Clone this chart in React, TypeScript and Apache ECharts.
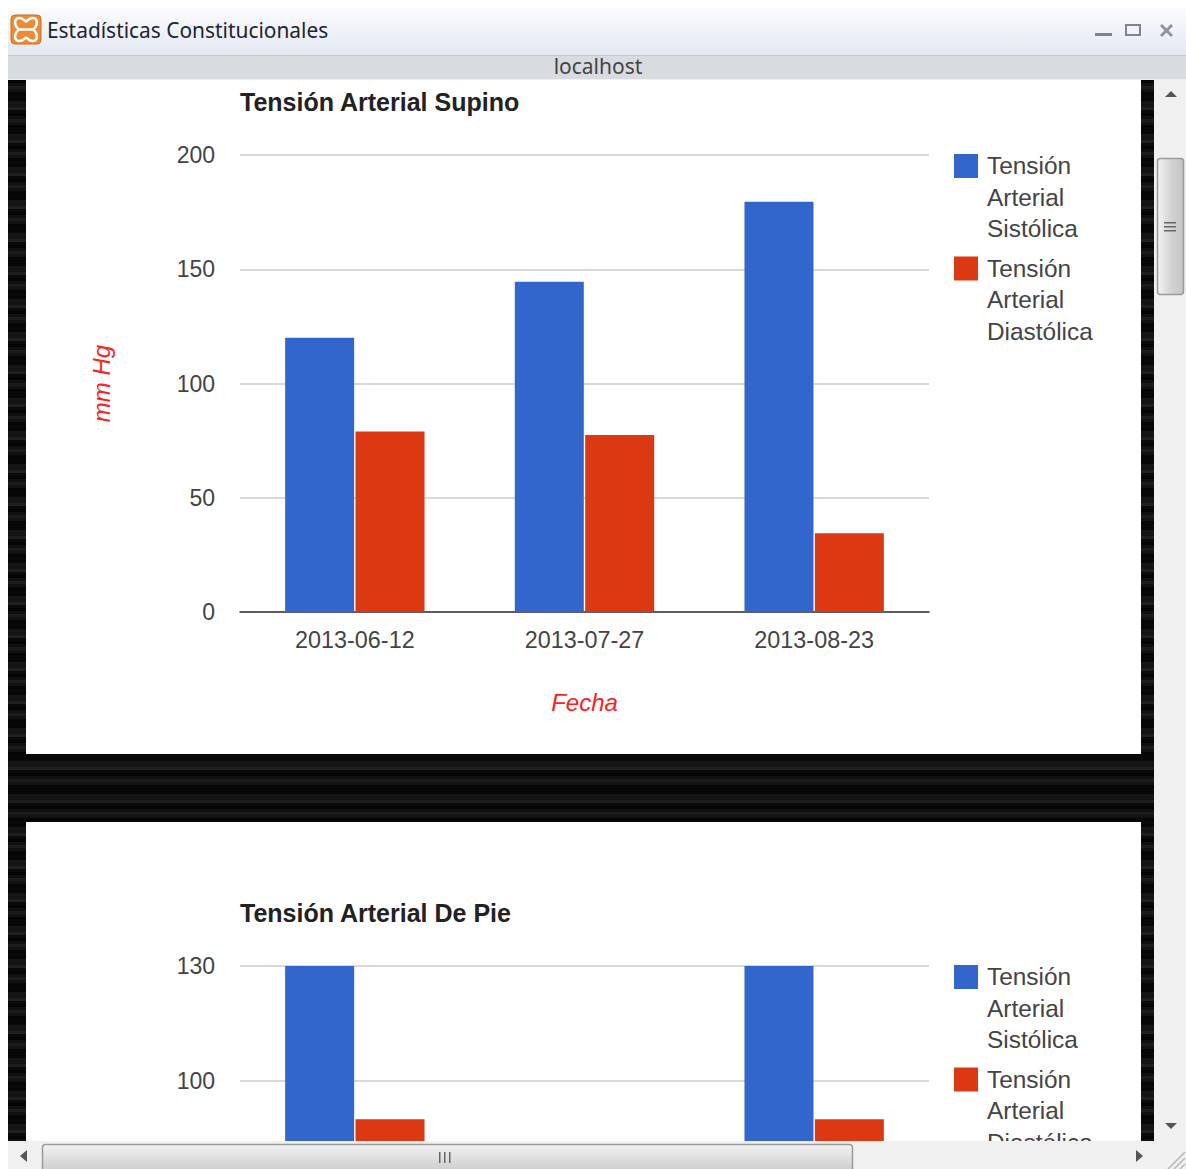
import React, { useEffect, useRef } from "react";
import * as echarts from "echarts";

const dates = ["2013-06-12", "2013-07-27", "2013-08-23"];
const supinoSistolica = [120, 144.5, 179.5];
const supinoDiastolica = [79, 77.5, 34.5];
// The middle date of the standing chart stays below the window's scrolled edge.
const dePieSistolica = [130, null, 130];
const dePieDiastolica = [90, null, 90];
const legendNames = ["Tensión\nArterial\nSistólica", "Tensión\nArterial\nDiastólica"];
const seriesNames = ["Tensión Arterial Sistólica", "Tensión Arterial Diastólica"];
const supinoTicks = { min: 0, max: 200, interval: 50 };
const dePieTicks = { min: 10, max: 130, interval: 30 };

const BLUE = "#3366cc";
const RED = "#dc3912";
const AXIS_RED = "#ff2020";
const FONT = "'Liberation Sans', Arial, sans-serif";
const UI_FONT = "'Noto Sans', 'Open Sans', sans-serif";

echarts.graphic.registerShape(
  "xamppBone",
  echarts.graphic.extendPath(
    "M6 3C11 1 13 5 15 6C17 5 19 1 24 3C28 6 25 12 22 14C25 16 28 22 24 25C19 27 17 23 15 22C13 23 11 27 6 25C2 22 5 16 8 14C5 12 2 6 6 3Z M8 14L22 14",
    {},
  ) as any,
);

// Brushed-metal page background, one thin line per row with varying brightness.
const stripeShades = ["#050505", "#131313", "#080808", "#1c1c1c", "#0a0a0a", "#161616", "#060606", "#101010", "#1f1f1f", "#070707", "#121212"];

function stripes() {
  const lines: any[] = [];
  for (let y = 80, i = 0; y < 1141; y += 3, i++) {
    lines.push({
      type: "rect",
      z: 0,
      silent: true,
      shape: { x: 8, y, width: 1146, height: 3 },
      style: { fill: stripeShades[(i * 7) % stripeShades.length] },
    });
  }
  return lines;
}

function legend(top: number) {
  const items: any[] = [];
  [BLUE, RED].forEach((color, i) => {
    const y = top + i * 102.5;
    items.push({
      type: "rect",
      z: 3,
      shape: { x: 954, y, width: 24, height: 24 },
      style: { fill: color },
    });
    items.push({
      type: "text",
      z: 3,
      x: 987,
      y: y - 4,
      style: {
        text: legendNames[i],
        font: `24.4px ${FONT}`,
        fill: "#444444",
        lineHeight: 31.5,
      },
    });
  });
  return items;
}

function windowFrame() {
  const z = 50;
  const rect = (x: number, y: number, width: number, height: number, fill: any, stroke?: string, r = 0) => ({
    type: "rect",
    z,
    silent: true,
    shape: { x, y, width, height, r },
    style: { fill, stroke, lineWidth: stroke ? 1.5 : 0 },
  });
  const tri = (points: number[][], fill = "#555555") => ({
    type: "polygon",
    z: z + 1,
    silent: true,
    shape: { points },
    style: { fill },
  });
  const vGrad = (a: string, b: string) =>
    new echarts.graphic.LinearGradient(0, 0, 0, 1, [
      { offset: 0, color: a },
      { offset: 1, color: b },
    ]);
  const hGrad = (a: string, m: string, b: string) =>
    new echarts.graphic.LinearGradient(0, 0, 1, 0, [
      { offset: 0, color: a },
      { offset: 0.5, color: m },
      { offset: 1, color: b },
    ]);
  return [
    rect(0, 0, 8, 1169, "#ffffff"),
    rect(0, 0, 1186, 10, "#ffffff"),
    rect(8, 8, 1178, 48, vGrad("#fbfcfe", "#e3e7f1")),
    rect(8, 55, 1178, 25, "#d8dbe0"),
    { type: "rect", z: z + 1, shape: { x: 8, y: 55, width: 1178, height: 1 }, style: { fill: "#c5c9d2" } },
    { type: "rect", z: z + 1, shape: { x: 8, y: 79, width: 1178, height: 1 }, style: { fill: "#eef0f3" } },
    { type: "rect", z: z + 1, shape: { x: 11, y: 15, width: 30, height: 29, r: 4 }, style: { fill: "#ef8a34", stroke: "#c9701f", lineWidth: 1 } },
    {
      type: "xamppBone",
      z: z + 2,
      x: 11,
      y: 15.5,
      style: { fill: "none", stroke: "#ffffff", lineWidth: 2.5 },
    },
    {
      type: "text",
      z: z + 1,
      x: 47,
      y: 30,
      style: { text: "Estadísticas Constitucionales", font: `20.9px ${UI_FONT}`, fill: "#1d2433", verticalAlign: "middle" },
    },
    {
      type: "text",
      z: z + 1,
      x: 598,
      y: 66,
      style: { text: "localhost", font: `21px ${UI_FONT}`, fill: "#444444", align: "center", verticalAlign: "middle" },
    },
    // Window buttons
    { type: "rect", z: z + 1, shape: { x: 1095, y: 33, width: 17, height: 3 }, style: { fill: "#7d8490" } },
    { type: "rect", z: z + 1, shape: { x: 1126, y: 25, width: 14, height: 10 }, style: { fill: "none", stroke: "#7d8490", lineWidth: 2 } },
    { type: "line", z: z + 1, shape: { x1: 1161, y1: 25, x2: 1172, y2: 36 }, style: { stroke: "#8e949e", lineWidth: 3 } },
    { type: "line", z: z + 1, shape: { x1: 1172, y1: 25, x2: 1161, y2: 36 }, style: { stroke: "#8e949e", lineWidth: 3 } },
    // Vertical scrollbar
    rect(1154, 80, 32, 1061, "#f0f0f0"),
    rect(1157.5, 158.5, 26, 136, hGrad("#f4f4f4", "#d4d4d4", "#c4c4c4"), "#9a9a9a", 3),
    tri([[1165, 97], [1177, 97], [1171, 91]]),
    tri([[1165, 1123], [1177, 1123], [1171, 1129]]),
    ...[222, 226, 230].map((y) => ({ type: "rect", z: z + 1, shape: { x: 1164, y, width: 12, height: 1.5 }, style: { fill: "#666666" } })),
    // Horizontal scrollbar
    rect(8, 1141, 1178, 28, "#f0f0f0"),
    rect(42.5, 1144.5, 810, 30, vGrad("#f2f2f2", "#c8c8c8"), "#9a9a9a", 3),
    tri([[27, 1150], [27, 1162], [20, 1156]]),
    tri([[1136, 1150], [1136, 1162], [1143, 1156]]),
    ...[439, 444, 449].map((x) => ({ type: "rect", z: z + 1, shape: { x, y: 1152, width: 1.5, height: 11 }, style: { fill: "#666666" } })),
    // Resize grip
    ...[0, 1, 2].map((i) => ({
      type: "line",
      z: z + 1,
      shape: { x1: 1185, y1: 1152 + i * 6, x2: 1168 + i * 6, y2: 1169 },
      style: { stroke: "#b5b5b5", lineWidth: 1.5 },
    })),
  ];
}

function bars(name: string, values: (number | null)[], color: string, axis: number) {
  return {
    type: "bar",
    name,
    data: values,
    xAxisIndex: axis,
    yAxisIndex: axis,
    barWidth: 69,
    barGap: "2%",
    itemStyle: { color },
    silent: true,
    z: 3,
  };
}

export default function App() {
  const ref = useRef<HTMLDivElement>(null);

  useEffect(() => {
    const chart = echarts.init(ref.current!, undefined, { renderer: "svg" });
    const xCommon = {
      type: "category",
      z: 2,
      data: dates,
      axisTick: { show: false },
      axisLine: { lineStyle: { color: "#333333", width: 1.5 } },
      axisLabel: { color: "#444444", fontSize: 23.4, fontFamily: FONT, margin: 16 },
      nameTextStyle: { color: AXIS_RED, fontSize: 24, fontStyle: "italic", fontFamily: FONT },
    };
    const yCommon = {
      type: "value",
      z: 2,
      axisLine: { show: false },
      axisTick: { show: false },
      splitLine: { lineStyle: { color: "#cccccc", width: 1.5 } },
      axisLabel: { color: "#444444", fontSize: 23, fontFamily: FONT, margin: 25, padding: [0, 0, 2, 0] },
      nameTextStyle: { color: AXIS_RED, fontSize: 24, fontStyle: "italic", fontFamily: FONT },
    };
    const titleStyle = { fontFamily: FONT, fontSize: 25, fontWeight: "bold", color: "#222222" };
    chart.setOption({
      animation: false,
      backgroundColor: "transparent",
      title: [
        { text: "Tensión Arterial Supino", left: 240, top: 89, padding: 0, textStyle: titleStyle, z: 3 },
        { text: "Tensión Arterial De Pie", left: 240, top: 900, padding: 0, textStyle: titleStyle, z: 3 },
      ],
      grid: [
        { left: 240, top: 155, width: 689, height: 457, outerBoundsMode: "none" },
        { left: 240, top: 966, width: 689, height: 460, outerBoundsMode: "none" },
      ],
      xAxis: [
        { ...xCommon, gridIndex: 0, name: "Fecha", nameLocation: "middle", nameGap: 78 },
        // The lower chart's axis sits past the window's visible area, so its labels are left out.
        { ...xCommon, gridIndex: 1, axisLabel: { show: false } },
      ],
      yAxis: [
        { ...yCommon, gridIndex: 0, ...supinoTicks, name: "mm Hg", nameLocation: "middle", nameGap: 127, nameRotate: 90 },
        {
          ...yCommon,
          gridIndex: 1,
          ...dePieTicks,
          axisLabel: { ...yCommon.axisLabel, formatter: (v: number) => (v >= 100 ? String(v) : "") },
        },
      ],
      series: [
        bars(seriesNames[0], supinoSistolica, BLUE, 0),
        bars(seriesNames[1], supinoDiastolica, RED, 0),
        bars(seriesNames[0], dePieSistolica, BLUE, 1),
        bars(seriesNames[1], dePieDiastolica, RED, 1),
      ],
      graphic: [
        ...stripes(),
        { type: "rect", z: 1, silent: true, shape: { x: 26, y: 80, width: 1115, height: 674 }, style: { fill: "#ffffff" } },
        { type: "rect", z: 1, silent: true, shape: { x: 26, y: 822, width: 1115, height: 330 }, style: { fill: "#ffffff" } },
        ...legend(154),
        ...legend(965),
        ...windowFrame(),
      ],
    });
    return () => chart.dispose();
  }, []);

  return (
    <div
      ref={ref}
      style={{ position: "absolute", left: 0, top: 0, width: 1186, height: 1169, overflow: "hidden", background: "#ffffff" }}
    />
  );
}
